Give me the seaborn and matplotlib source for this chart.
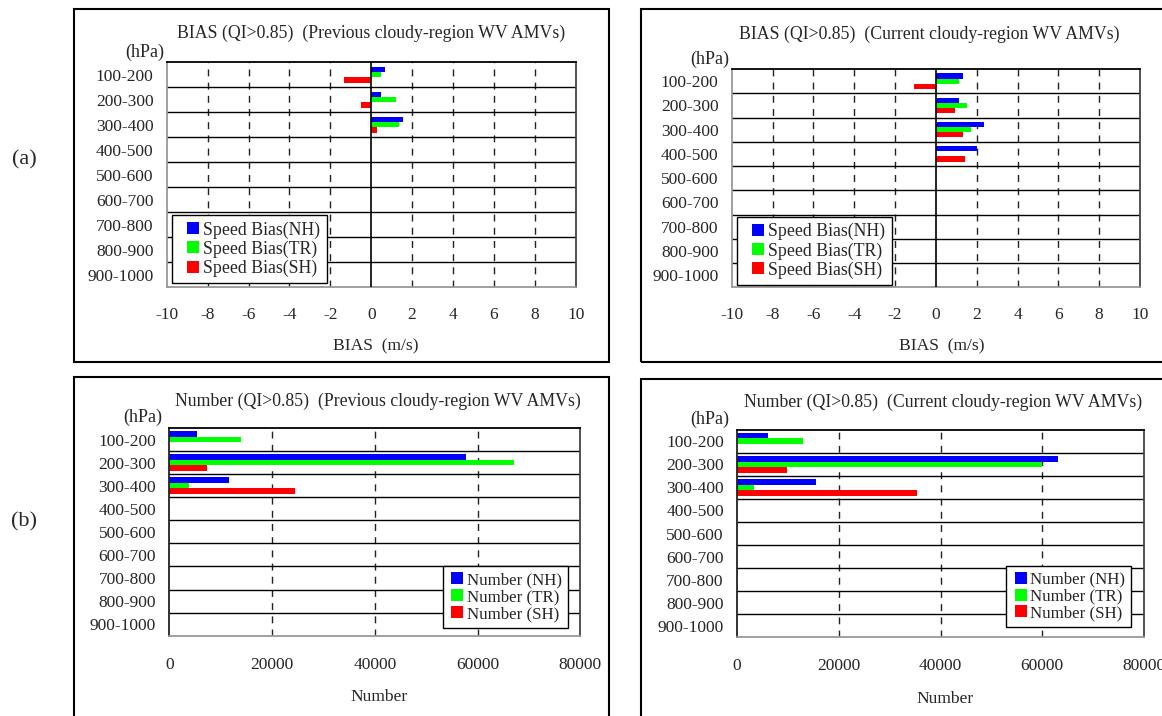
import matplotlib
matplotlib.use("Agg")
import matplotlib.pyplot as plt
from matplotlib.patches import Rectangle
from matplotlib.lines import Line2D
import numpy as np
import pandas as pd
import seaborn as sns

# ---- data -------------------------------------------------------------
layers = ["100-200", "200-300", "300-400", "400-500", "500-600",
          "600-700", "700-800", "800-900", "900-1000"]

prev_bias_nh = [0.68, 0.49, 1.56, 0, 0, 0, 0, 0, 0]
prev_bias_tr = [0.49, 1.22, 1.37, 0, 0, 0, 0, 0, 0]
prev_bias_sh = [-1.32, -0.49, 0.29, 0, 0, 0, 0, 0, 0]

curr_bias_nh = [1.31, 1.11, 2.34, 2.04, 0, 0, 0, 0, 0]
curr_bias_tr = [1.11, 1.55, 1.70, 0, 0, 0, 0, 0, 0]
curr_bias_sh = [-1.09, 0.92, 1.31, 1.45, 0, 0, 0, 0, 0]

prev_num_nh = [5400, 57800, 11600, 0, 0, 0, 0, 0, 0]
prev_num_tr = [13900, 67100, 3800, 0, 0, 0, 0, 0, 0]
prev_num_sh = [0, 7300, 24400, 0, 0, 0, 0, 0, 0]

curr_num_nh = [6100, 63100, 15500, 0, 0, 0, 0, 0, 0]
curr_num_tr = [13000, 60000, 3300, 0, 0, 0, 0, 0, 0]
curr_num_sh = [0, 9800, 35400, 0, 0, 0, 0, 0, 0]

bias_labels = ["Speed Bias(NH)", "Speed Bias(TR)", "Speed Bias(SH)"]
num_labels = ["Number (NH)", "Number (TR)", "Number (SH)"]
bias_ticks = [-10, -8, -6, -4, -2, 0, 2, 4, 6, 8, 10]
num_ticks = [0, 20000, 40000, 60000, 80000]
colors = ["#0000FF", "#00FF00", "#FF0000"]

# ---- style ------------------------------------------------------------
sns.set_theme(style="white")
plt.rcParams["font.family"] = ["Liberation Serif", "DejaVu Serif"]
FS = 12.5

W, H = 1162, 716
fig = plt.figure(figsize=(W / 100, H / 100), dpi=100)
fig.patch.set_facecolor("white")


def fx(x):
    return x / W


def fy(y):
    return 1 - y / H


def add_axes(x0, y0, x1, y1):
    return fig.add_axes([fx(x0), fy(y1), fx(x1) - fx(x0), fy(y0) - fy(y1)])


def frame(x0, y0, x1, y1):
    fig.patches.append(Rectangle((fx(x0), fy(y1)), fx(x1) - fx(x0), fy(y0) - fy(y1),
                                 transform=fig.transFigure, fill=False,
                                 edgecolor="black", linewidth=1.5))


def panel(ax, nh, tr, sh, labels, ticks, width, grid, zero_line,
          legend_loc, legend_anchor, tick_pad, left_color, leg):
    df = pd.DataFrame({
        "layer": layers * 3,
        "value": list(nh) + list(tr) + list(sh),
        "series": [labels[0]] * 9 + [labels[1]] * 9 + [labels[2]] * 9,
    })
    sns.barplot(data=df, x="value", y="layer", hue="series", order=layers,
                hue_order=labels, palette=colors, orient="h", width=width,
                linewidth=0, saturation=1, errorbar=None, legend=False, ax=ax)
    ax.set_xlim(ticks[0], ticks[-1])
    ax.set_ylim(8.5, -0.5)
    ax.set_xticks(ticks)
    ax.set_xticklabels([str(t) for t in ticks], fontsize=FS)
    ax.set_yticks(range(len(layers)))
    ax.set_yticklabels(layers, fontsize=FS)
    ax.tick_params(axis="both", length=0)
    ax.tick_params(axis="x", pad=tick_pad)
    ax.tick_params(axis="y", pad=9.5)
    ax.set_xlabel("")
    ax.set_ylabel("")
    for g in grid:
        ax.axvline(g, color="#222222", linewidth=1.0,
                   linestyle=(0, (5.0, 4.5)), zorder=0.5)
    for b in np.arange(0.5, 8.5, 1.0):
        ax.axhline(b, color="black", linewidth=1.0, zorder=0.6)
    if zero_line:
        ax.axvline(0, color="black", linewidth=1.2, zorder=3)
    for side, col in (("top", "black"), ("right", "#444444"),
                      ("bottom", "#999999"), ("left", left_color)):
        ax.spines[side].set_visible(True)
        ax.spines[side].set_color(col)
        ax.spines[side].set_linewidth(1.3)
    handles = [Line2D([], [], linestyle="none", marker="s", markersize=leg["ms"],
                      markerfacecolor=c, markeredgewidth=0) for c in colors]
    lg = ax.legend(handles, labels, loc=legend_loc, bbox_to_anchor=legend_anchor,
                   borderaxespad=0, fontsize=leg["fs"], frameon=True, fancybox=False,
                   framealpha=1, edgecolor="black", handlelength=leg["hl"],
                   handletextpad=leg["htp"], labelspacing=leg["ls"],
                   borderpad=0.35)
    lg.get_frame().set_linewidth(1.0)
    lg.set_zorder(5)


top_leg = dict(fs=12.8, ms=8.6, hl=1.76, htp=-0.32, ls=0.1)
bot_leg = dict(fs=12.2, ms=8.0, hl=1.0, htp=0.05, ls=0.05)

# ---- panel frames -----------------------------------------------------
frame(74, 9, 609, 362)
frame(640.5, 9, 1175, 362)
frame(74, 377, 609, 730)
frame(641, 379, 1175, 730)

# ---- (a) bias panels --------------------------------------------------
ax1 = add_axes(166.7, 62.3, 575.7, 287.3)
panel(ax1, prev_bias_nh, prev_bias_tr, prev_bias_sh, bias_labels, bias_ticks,
      0.64, [-8, -6, -4, -2, 2, 4, 6, 8], True, "lower left", (0.012, 0.019),
      14, "#999999", top_leg)

ax2 = add_axes(731.7, 69, 1140, 287.3)
panel(ax2, curr_bias_nh, curr_bias_tr, curr_bias_sh, bias_labels, bias_ticks,
      0.64, [-8, -6, -4, -2, 2, 4, 6, 8], True, "lower left", (0.012, 0.011),
      14, "#999999", top_leg)

# ---- (b) number panels ------------------------------------------------
ax3 = add_axes(169.3, 428, 580.3, 635.7)
panel(ax3, prev_num_nh, prev_num_tr, prev_num_sh, num_labels, num_ticks,
      0.72, [20000, 40000, 60000], False, "lower right", (0.969, 0.037),
      15, "#222222", bot_leg)

ax4 = add_axes(737, 429.7, 1144, 637.3)
panel(ax4, curr_num_nh, curr_num_tr, curr_num_sh, num_labels, num_ticks,
      0.72, [20000, 40000, 60000], False, "lower right", (0.968, 0.048),
      15, "#222222", bot_leg)

# ---- titles, axis captions and unit labels ----------------------------
def ftext(x, y, s, ha="center", size=FS):
    fig.text(fx(x), fy(y), s, ha=ha, va="center", fontsize=size)


TS = 12.8
ftext(371.5, 33, "BIAS (QI>0.85)  (Previous cloudy-region WV AMVs)", size=TS)
ftext(929, 34.3, "BIAS (QI>0.85)  (Current cloudy-region WV AMVs)", size=TS)
ftext(377.5, 401, "Number (QI>0.85)  (Previous cloudy-region WV AMVs)", size=TS)
ftext(943, 402, "Number (QI>0.85)  (Current cloudy-region WV AMVs)", size=TS)

ftext(376, 346.7, "BIAS  (m/s)", size=12.6)
ftext(941.3, 346.7, "BIAS  (m/s)", size=12.6)
ftext(379.5, 697, "Number", size=12.6)
ftext(945, 699, "Number", size=12.6)

ftext(164.3, 52.7, "(hPa)", ha="right", size=13)
ftext(729.3, 59.3, "(hPa)", ha="right", size=13)
ftext(162.3, 417, "(hPa)", ha="right", size=13)
ftext(729.3, 419.7, "(hPa)", ha="right", size=13)

ftext(24.5, 160, "(a)", size=16)
ftext(24.5, 522, "(b)", size=16)

fig.savefig("out.png", dpi=100, facecolor="white")
